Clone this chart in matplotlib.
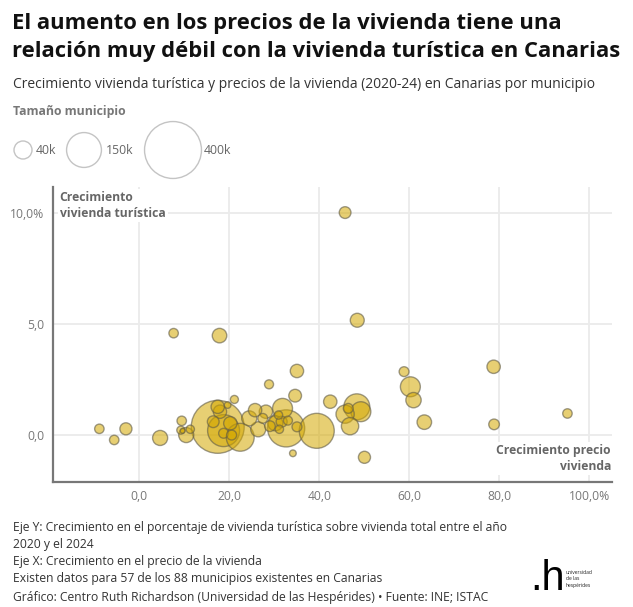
import matplotlib
matplotlib.use("Agg")
import matplotlib.pyplot as plt
import numpy as np

# Data: growth in housing price (%), growth in tourist housing share (pp), population (thousands)
precio = [45.7, 48.4, 7.6, 17.8, 35.0, 28.8, 34.6, 42.4, 21.1, 58.8,
          60.2, 60.9, 63.3, 78.7, 78.8, 95.1, 50.0, 34.1, 48.3, 49.2,
          45.7, 46.4, 46.8, 35.0, 39.4, 32.6, 31.8, 30.9, 30.2, 31.6,
          31.1, 28.1, 25.7, 24.4, 26.4, 22.4, 17.4, 18.7, 19.6, 17.4,
          17.9, 16.4, 20.2, 18.7, 20.5, 9.4, 9.2, 11.3, 10.4, 9.6,
          -8.9, -5.6, -3.0, 4.6, 33.0, 29.0, 27.4]
turistica = [10.0, 5.16, 4.58, 4.47, 2.88, 2.28, 1.77, 1.50, 1.60, 2.85,
             2.17, 1.57, 0.58, 3.07, 0.48, 0.97, -1.00, -0.82, 1.27, 1.05,
             0.94, 1.20, 0.40, 0.37, 0.19, 0.30, 1.20, 0.90, 0.53, 0.60,
             0.26, 1.05, 1.12, 0.75, 0.26, -0.10, 0.37, 0.20, 1.35, 1.27,
             1.05, 0.60, 0.53, 0.08, 0.00, 0.64, 0.22, 0.26, 0.00, 0.19,
             0.28, -0.22, 0.28, -0.13, 0.65, 0.40, 0.75]
poblacion = [17, 24, 11, 26, 22, 10, 20, 22, 8, 12,
             49, 29, 26, 22, 14, 11, 18, 5.5, 83, 49,
             41, 12, 37, 12, 151, 170, 49, 8.5, 28, 15,
             8.5, 22, 22, 28, 28, 96, 346, 126, 5.5, 22,
             22, 17, 22, 12, 12, 11, 8, 8.5, 28, 3,
             11, 11, 18, 28, 10, 14, 12]

legend_sizes = [40, 150, 400]
legend_labels = ["40k", "150k", "400k"]
xticks = [0, 20, 40, 60, 80, 100]
xticklabels = ["0,0", "20,0", "40,0", "60,0", "80,0", "100,0%"]
yticks = [0, 5, 10]
yticklabels = ["0,0", "5,0", "10,0%"]

SCALE = 4.2  # marker area (pt^2) per thousand inhabitants
FONT = "Open Sans"
W, H = 633, 607

fig = plt.figure(figsize=(W / 100, H / 100), dpi=100)
fig.patch.set_facecolor("white")

ax = fig.add_axes([53 / W, 1 - 482 / H, (612 - 53) / W, (482 - 187) / H])
ax.set_xlim(-19.2, 105.0)
ax.set_ylim(-2.11, 11.15)

order = np.argsort(poblacion)[::-1]
px = np.array(precio)[order]
py = np.array(turistica)[order]
pp = np.array(poblacion)[order]
ax.scatter(px, py, s=pp * SCALE, facecolor=(0.83, 0.66, 0.0, 0.55),
           edgecolor=(0.38, 0.36, 0.28, 0.6), linewidth=1.0, zorder=3)

ax.set_xticks(xticks)
ax.set_xticklabels(xticklabels)
ax.set_yticks(yticks)
ax.set_yticklabels(yticklabels)
ax.grid(True, color="#ebebeb", linewidth=1.3, zorder=0)
ax.set_axisbelow(True)
ax.tick_params(length=0, labelsize=8.7, labelcolor="#777777", pad=6)
for lab in ax.get_xticklabels() + ax.get_yticklabels():
    lab.set_fontfamily(FONT)
for s in ["top", "right"]:
    ax.spines[s].set_visible(False)
for s in ["left", "bottom"]:
    ax.spines[s].set_color("#777777")
    ax.spines[s].set_linewidth(1.6)

ax.text(0.012, 0.985, "Crecimiento\nvivienda turística", transform=ax.transAxes,
        ha="left", va="top", fontsize=8.7, fontweight="bold", color="#666666",
        family=FONT, linespacing=1.3, zorder=5,
        bbox=dict(facecolor="white", edgecolor="none", pad=1.5))
ax.text(0.998, 0.03, "Crecimiento precio\nvivienda", transform=ax.transAxes,
        ha="right", va="bottom", fontsize=8.7, fontweight="bold", color="#666666",
        family=FONT, linespacing=1.3, zorder=5, multialignment="right",
        bbox=dict(facecolor="white", edgecolor="none", pad=1.5))

# overlay in pixel coordinates
ov = fig.add_axes([0, 0, 1, 1], zorder=10)
ov.set_xlim(0, W)
ov.set_ylim(H, 0)
ov.axis("off")
ov.patch.set_alpha(0)

ov.text(12, 29, "El aumento en los precios de la vivienda tiene una",
        ha="left", va="baseline", fontsize=15.8, fontweight="bold", color="#111111",
        family=FONT)
ov.text(12, 57, "relación muy débil con la vivienda turística en Canarias",
        ha="left", va="baseline", fontsize=15.8, fontweight="bold", color="#111111",
        family=FONT)
ov.text(13, 88, "Crecimiento vivienda turística y precios de la vivienda (2020-24) en Canarias por municipio",
        ha="left", va="baseline", fontsize=10, color="#333333", family=FONT)
ov.text(13, 115, "Tamaño municipio", ha="left", va="baseline", fontsize=8.8,
        fontweight="bold", color="#777777", family=FONT)

leg_x = [23, 84, 173]
lab_x = [36, 106, 204]
for cx, lx, sz, lb in zip(leg_x, lab_x, legend_sizes, legend_labels):
    ov.scatter([cx], [150], s=sz * SCALE, facecolor="none", edgecolor="#c4c4c4",
               linewidth=1.0)
    ov.text(lx, 150, lb, ha="left", va="center", fontsize=8.8, color="#666666",
            family=FONT)

notes = ["Eje Y: Crecimiento en el porcentaje de vivienda turística sobre vivienda total entre el año",
         "2020 y el 2024",
         "Eje X: Crecimiento en el precio de la vivienda",
         "Existen datos para 57 de los 88 municipios existentes en Canarias"]
for i, t in enumerate(notes):
    ov.text(13, 527 + i * 17.3, t, ha="left", va="center", fontsize=8.75,
            color="#333333", family=FONT)
ov.text(13, 598, "Gráfico: Centro Ruth Richardson (Universidad de las Hespérides) • Fuente: INE; ISTAC",
        ha="left", va="center", fontsize=8.75, color="#333333", family=FONT)

# logo
ov.text(530, 590, ".h", ha="left", va="baseline", fontsize=30, color="#000000",
        family=["Liberation Sans", "DejaVu Sans"])
ov.text(566, 579, "universidad\nde las\nhespérides", ha="left", va="center",
        fontsize=3.6, color="#222222", family=FONT, linespacing=1.25)

fig.savefig("out.png", dpi=100, facecolor="white")
